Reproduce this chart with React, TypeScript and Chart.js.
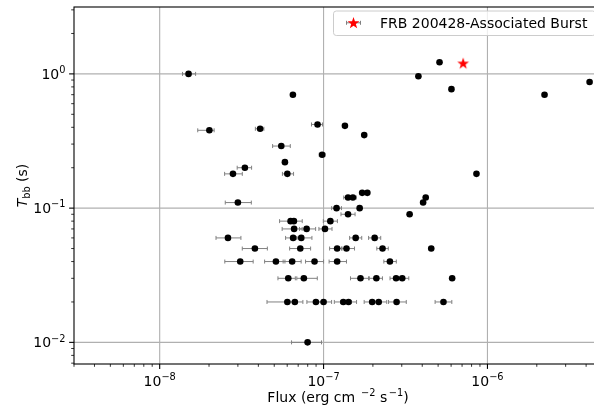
import React, { useEffect, useRef } from "react";
import { Chart, registerables } from "chart.js";

Chart.register(...registerables);

// ---- data ----
const fluxValues = [
  1.50e-8, 6.50e-8, 2.01e-8, 4.10e-8, 9.19e-8, 1.35e-7, 5.52e-8, 9.8e-8, 5.81e-8, 3.31e-8,
  2.80e-8, 6.01e-8, 8.57e-7, 1.77e-7, 3.00e-8, 1.41e-7, 1.51e-7, 4.20e-7, 1.72e-7, 1.85e-7,
  4.05e-7, 1.20e-7, 1.66e-7, 1.41e-7, 3.35e-7, 6.29e-8, 6.59e-8, 1.10e-7, 6.61e-8, 7.88e-8,
  1.02e-7, 2.61e-8, 6.52e-8, 7.31e-8, 1.57e-7, 2.05e-7, 3.81e-8, 7.21e-8, 1.21e-7, 1.38e-7,
  2.29e-7, 4.54e-7, 3.10e-8, 5.12e-8, 6.43e-8, 8.81e-8, 1.21e-7, 2.54e-7, 6.09e-8, 7.58e-8,
  1.68e-7, 2.10e-7, 2.77e-7, 3.02e-7, 6.09e-7, 6.01e-8, 6.68e-8, 8.98e-8, 1.00e-7, 1.32e-7,
  1.42e-7, 1.98e-7, 2.17e-7, 2.79e-7, 5.39e-7, 7.99e-8, 3.79e-7, 5.10e-7, 6.03e-7, 2.23e-6,
  4.20e-6,
];
const tbbValues = [
  1.00, 0.70, 0.38, 0.39, 0.42, 0.41, 0.29, 0.25, 0.22, 0.20,
  0.18, 0.18, 0.18, 0.35, 0.11, 0.12, 0.12, 0.12, 0.13, 0.13,
  0.11, 0.10, 0.10, 0.09, 0.09, 0.08, 0.08, 0.08, 0.07, 0.07,
  0.07, 0.06, 0.06, 0.06, 0.06, 0.06, 0.05, 0.05, 0.05, 0.05,
  0.05, 0.05, 0.04, 0.04, 0.04, 0.04, 0.04, 0.04, 0.03, 0.03,
  0.03, 0.03, 0.03, 0.03, 0.03, 0.02, 0.02, 0.02, 0.02, 0.02,
  0.02, 0.02, 0.02, 0.02, 0.02, 0.01, 0.96, 1.22, 0.77, 0.70,
  0.87,
];
// x error bar extents (lower / upper), in dex
const fluxErrLoDex = [
  0.037, 0, 0.071, 0.029, 0.037, 0.012, 0.053, 0.018, 0, 0.047,
  0.051, 0.030, 0, 0, 0.077, 0.026, 0.012, 0, 0, 0,
  0, 0.030, 0, 0.043, 0, 0.067, 0.030, 0.043, 0.073, 0.043,
  0.037, 0.073, 0.046, 0.030, 0.037, 0.037, 0.077, 0.065, 0.046, 0.030,
  0.035, 0, 0.094, 0.069, 0.055, 0.055, 0.049, 0.037, 0.063, 0.043,
  0.061, 0.043, 0.037, 0.024, 0, 0.124, 0.049, 0.055, 0.049, 0.055,
  0.049, 0.049, 0.049, 0.049, 0.051, 0.098, 0, 0, 0, 0,
  0,
];
const fluxErrHiDex = [
  0.043, 0, 0.029, 0.023, 0.030, 0.012, 0.055, 0.018, 0, 0.041,
  0.057, 0.038, 0, 0, 0.082, 0.012, 0.021, 0, 0, 0,
  0, 0.030, 0, 0.043, 0, 0.030, 0.051, 0.043, 0.049, 0.055,
  0.043, 0.079, 0.030, 0.065, 0.037, 0.037, 0.076, 0.063, 0.030, 0.049,
  0.035, 0, 0.079, 0.055, 0.055, 0.055, 0.057, 0.039, 0.043, 0.082,
  0.049, 0.037, 0.024, 0.040, 0, 0.049, 0.049, 0.055, 0.049, 0.049,
  0.049, 0.049, 0.049, 0.059, 0.051, 0.085, 0, 0, 0, 0,
  0,
];
const frbFlux = [7.11e-7];
const frbTbb = [1.2];
const legendLabel = "FRB 200428-Associated Burst";

const xTickExponents = [-8, -7, -6];
const yTickExponents = [0, -1, -2];
const xLimits = [3e-9, 5e-6];
const yLimits = [0.0069, 3.15];

const FONT = '"DejaVu Sans", "Noto Sans", sans-serif';
const MINUS = "\u2212";

function starPath(ctx: CanvasRenderingContext2D, cx: number, cy: number, ro: number, ri: number) {
  ctx.beginPath();
  for (let i = 0; i < 10; i++) {
    const r = i % 2 === 0 ? ro : ri;
    const a = -Math.PI / 2 + (i * Math.PI) / 5;
    const px = cx + r * Math.cos(a);
    const py = cy + r * Math.sin(a);
    if (i === 0) ctx.moveTo(px, py);
    else ctx.lineTo(px, py);
  }
  ctx.closePath();
}

function makeStarImage(): HTMLCanvasElement {
  const c = document.createElement("canvas");
  c.width = 14;
  c.height = 14;
  const g = c.getContext("2d")!;
  starPath(g, 7, 7.4, 6.2, 2.45);
  g.fillStyle = "#ff0000";
  g.fill();
  return c;
}

function drawPow(
  ctx: CanvasRenderingContext2D,
  base: string,
  exp: string,
  x: number,
  baseline: number,
  align: "center" | "right"
) {
  ctx.textAlign = "left";
  ctx.textBaseline = "alphabetic";
  ctx.font = `14px ${FONT}`;
  const wb = ctx.measureText(base).width;
  ctx.font = `9.8px ${FONT}`;
  const we = ctx.measureText(exp).width;
  const total = wb + we;
  const x0 = align === "center" ? x - total / 2 : x - total;
  ctx.fillStyle = "#000";
  ctx.font = `14px ${FONT}`;
  ctx.fillText(base, x0, baseline);
  ctx.font = `9.8px ${FONT}`;
  ctx.fillText(exp, x0 + wb, baseline - 5.6);
}

const decoPlugin = {
  id: "deco",
  beforeDatasetsDraw(chart: any) {
    const ctx: CanvasRenderingContext2D = chart.ctx;
    const { left, right, top, bottom } = chart.chartArea;
    const xs = chart.scales.x;
    const ys = chart.scales.y;
    ctx.save();
    // grid
    ctx.strokeStyle = "#b0b0b0";
    ctx.lineWidth = 1.1;
    xTickExponents.forEach((e) => {
      const px = xs.getPixelForValue(Math.pow(10, e));
      ctx.beginPath();
      ctx.moveTo(px, top);
      ctx.lineTo(px, bottom);
      ctx.stroke();
    });
    yTickExponents.forEach((e) => {
      const py = ys.getPixelForValue(Math.pow(10, e));
      ctx.beginPath();
      ctx.moveTo(left, py);
      ctx.lineTo(right, py);
      ctx.stroke();
    });
    // error bars
    ctx.strokeStyle = "#808080";
    ctx.lineWidth = 1;
    fluxValues.forEach((f, i) => {
      const lo = fluxErrLoDex[i];
      const hi = fluxErrHiDex[i];
      if (!lo && !hi) return;
      const py = ys.getPixelForValue(tbbValues[i]);
      const x1 = xs.getPixelForValue(f * Math.pow(10, -lo));
      const x2 = xs.getPixelForValue(f * Math.pow(10, hi));
      ctx.beginPath();
      ctx.moveTo(x1, py);
      ctx.lineTo(x2, py);
      ctx.moveTo(x1, py - 2);
      ctx.lineTo(x1, py + 2);
      ctx.moveTo(x2, py - 2);
      ctx.lineTo(x2, py + 2);
      ctx.stroke();
    });
    ctx.restore();
  },
  afterDraw(chart: any) {
    const ctx: CanvasRenderingContext2D = chart.ctx;
    const { left, right, top, bottom } = chart.chartArea;
    const xs = chart.scales.x;
    const ys = chart.scales.y;
    ctx.save();
    // spines
    ctx.strokeStyle = "#000";
    ctx.lineWidth = 1.1;
    ctx.strokeRect(left, top, right - left, bottom - top);

    // ticks
    const inRange = (v: number, lim: number[]) => v >= lim[0] * 0.9999 && v <= lim[1] * 1.0001;
    ctx.lineWidth = 1.1;
    for (let e = -9; e <= -5; e++) {
      for (let k = 1; k <= 9; k++) {
        const v = k * Math.pow(10, e);
        if (!inRange(v, xLimits)) continue;
        const px = xs.getPixelForValue(v);
        const len = k === 1 ? 4.9 : 2.8;
        ctx.lineWidth = k === 1 ? 1.1 : 0.8;
        ctx.beginPath();
        ctx.moveTo(px, bottom);
        ctx.lineTo(px, bottom + len);
        ctx.stroke();
      }
    }
    for (let e = -3; e <= 0; e++) {
      for (let k = 1; k <= 9; k++) {
        const v = k * Math.pow(10, e);
        if (!inRange(v, yLimits)) continue;
        const py = ys.getPixelForValue(v);
        const len = k === 1 ? 4.9 : 2.8;
        ctx.lineWidth = k === 1 ? 1.1 : 0.8;
        ctx.beginPath();
        ctx.moveTo(left, py);
        ctx.lineTo(left - len, py);
        ctx.stroke();
      }
    }

    // tick labels
    xTickExponents.forEach((e) => {
      const px = xs.getPixelForValue(Math.pow(10, e));
      drawPow(ctx, "10", MINUS + Math.abs(e), px, bottom + 21.5, "center");
    });
    yTickExponents.forEach((e) => {
      const py = ys.getPixelForValue(Math.pow(10, e));
      const es = e < 0 ? MINUS + Math.abs(e) : String(e);
      drawPow(ctx, "10", es, left - 8.5, py + 4.9, "right");
    });

    // x axis label: Flux (erg cm^-2 s^-1)
    {
      const parts: [string, boolean][] = [
        ["Flux (erg cm ", false],
        [MINUS + "2", true],
        [" s", false],
        [MINUS + "1", true],
        [")", false],
      ];
      const fNorm = `14px ${FONT}`;
      const fSup = `9.8px ${FONT}`;
      let total = 0;
      const widths = parts.map(([t, sup]) => {
        ctx.font = sup ? fSup : fNorm;
        const w = ctx.measureText(t).width + (sup ? 1.5 : 0);
        total += w;
        return w;
      });
      let x = (left + Math.min(right, 602)) / 2 - total / 2;
      const base = bottom + 37.5;
      ctx.fillStyle = "#000";
      ctx.textAlign = "left";
      ctx.textBaseline = "alphabetic";
      parts.forEach(([t, sup], i) => {
        ctx.font = sup ? fSup : fNorm;
        ctx.fillText(t, x + (sup ? 1.5 : 0), sup ? base - 6 : base);
        x += widths[i];
      });
    }

    // y axis label: T_bb (s)
    {
      ctx.save();
      ctx.translate(27, (top + bottom) / 2);
      ctx.rotate(-Math.PI / 2);
      const fT = `italic 14px ${FONT}`;
      const fSub = `9.8px ${FONT}`;
      const fNorm = `14px ${FONT}`;
      ctx.font = fT;
      const w1 = ctx.measureText("T").width;
      ctx.font = fSub;
      const w2 = ctx.measureText("bb").width;
      ctx.font = fNorm;
      const w3 = ctx.measureText(" (s)").width;
      const total = w1 + w2 + w3;
      let x = -total / 2;
      ctx.fillStyle = "#000";
      ctx.textAlign = "left";
      ctx.textBaseline = "alphabetic";
      ctx.font = fT;
      ctx.fillText("T", x, 0);
      x += w1;
      ctx.font = fSub;
      ctx.fillText("bb", x, 3);
      x += w2;
      ctx.font = fNorm;
      ctx.fillText(" (s)", x, 0);
      ctx.restore();
    }

    // legend
    {
      const lx = 333.5;
      const ly = 11;
      const lw = 262;
      const lh = 24.5;
      const r = 2.8;
      ctx.beginPath();
      ctx.moveTo(lx + r, ly);
      ctx.lineTo(lx + lw - r, ly);
      ctx.arcTo(lx + lw, ly, lx + lw, ly + r, r);
      ctx.lineTo(lx + lw, ly + lh - r);
      ctx.arcTo(lx + lw, ly + lh, lx + lw - r, ly + lh, r);
      ctx.lineTo(lx + r, ly + lh);
      ctx.arcTo(lx, ly + lh, lx, ly + lh - r, r);
      ctx.lineTo(lx, ly + r);
      ctx.arcTo(lx, ly, lx + r, ly, r);
      ctx.closePath();
      ctx.fillStyle = "rgba(255,255,255,0.8)";
      ctx.fill();
      ctx.strokeStyle = "#cccccc";
      ctx.lineWidth = 1;
      ctx.stroke();

      const hy = 22.8;
      ctx.strokeStyle = "#808080";
      ctx.lineWidth = 1;
      ctx.beginPath();
      ctx.moveTo(346.5, hy);
      ctx.lineTo(360.5, hy);
      ctx.moveTo(346.5, hy - 2);
      ctx.lineTo(346.5, hy + 2);
      ctx.moveTo(360.5, hy - 2);
      ctx.lineTo(360.5, hy + 2);
      ctx.stroke();
      starPath(ctx, 353.5, hy + 0.4, 6.2, 2.45);
      ctx.fillStyle = "#ff0000";
      ctx.fill();

      ctx.fillStyle = "#000";
      ctx.font = `14px ${FONT}`;
      ctx.textAlign = "left";
      ctx.textBaseline = "alphabetic";
      ctx.fillText(legendLabel, 380, 28.3);
    }
    ctx.restore();
  },
};

export default function App() {
  const ref = useRef<HTMLCanvasElement | null>(null);

  useEffect(() => {
    document.body.style.margin = "0";
    const canvas = ref.current!;
    const starImg = makeStarImage();
    const chart = new Chart(canvas, {
      type: "scatter",
      data: {
        datasets: [
          {
            label: "bursts",
            data: fluxValues.map((f, i) => ({ x: f, y: tbbValues[i] })),
            pointRadius: 3.3,
            pointHoverRadius: 3.3,
            backgroundColor: "#000000",
            borderWidth: 0,
          },
          {
            label: legendLabel,
            data: frbFlux.map((f, i) => ({ x: f, y: frbTbb[i] })),
            pointStyle: starImg as any,
            pointRadius: 7,
            backgroundColor: "#ff0000",
            borderWidth: 0,
          },
        ],
      },
      options: {
        responsive: false,
        animation: false,
        devicePixelRatio: 1,
        events: [],
        layout: { padding: { left: 74, top: 4, right: 8, bottom: 46 } },
        plugins: { legend: { display: false }, title: { display: false }, tooltip: { enabled: false } },
        scales: {
          x: {
            type: "logarithmic",
            min: xLimits[0],
            max: xLimits[1],
            bounds: "data",
            display: false,
          },
          y: {
            type: "logarithmic",
            min: yLimits[0],
            max: yLimits[1],
            bounds: "data",
            display: false,
          },
        },
      },
      plugins: [decoPlugin],
    });
    return () => chart.destroy();
  }, []);

  return (
    <div style={{ width: 594, height: 410, overflow: "hidden", background: "#fff" }}>
      <canvas ref={ref} width={610} height={410} style={{ width: 610, height: 410, display: "block" }} />
    </div>
  );
}
